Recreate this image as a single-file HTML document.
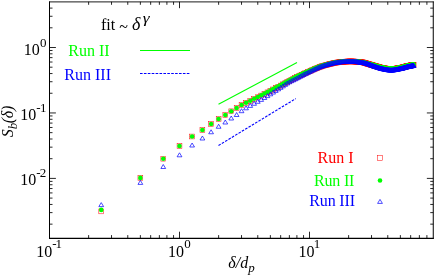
<!DOCTYPE html>
<html><head><meta charset="utf-8"><title>S_b(delta)</title>
<style>html,body{margin:0;padding:0;background:#fff}body{width:436px;height:276px;overflow:hidden}svg{display:block;will-change:transform;opacity:0.999}text{font-family:"Liberation Serif","DejaVu Serif",serif;}</style></head><body>
<svg width="436" height="276" viewBox="0 0 436 276">
<rect width="436" height="276" fill="#fff"/>
<g fill="none" stroke="#f00" stroke-width="0.5">
<rect x="98.83" y="209" width="4.8" height="4.8"/>
<rect x="137.97" y="175.4" width="4.8" height="4.8"/>
<rect x="160.86" y="156.3" width="4.8" height="4.8"/>
<rect x="177.1" y="143.6" width="4.8" height="4.8"/>
<rect x="189.7" y="134.1" width="4.8" height="4.8"/>
<rect x="199.99" y="127.6" width="4.8" height="4.8"/>
<rect x="208.69" y="121.61" width="4.8" height="4.8"/>
<rect x="216.23" y="116.61" width="4.8" height="4.8"/>
<rect x="222.88" y="112.63" width="4.8" height="4.8"/>
<rect x="228.83" y="108.89" width="4.8" height="4.8"/>
<rect x="234.21" y="105.67" width="4.8" height="4.8"/>
<rect x="239.13" y="102.7" width="4.8" height="4.8"/>
<rect x="243.64" y="100.51" width="4.8" height="4.8"/>
<rect x="247.83" y="98.48" width="4.8" height="4.8"/>
<rect x="251.72" y="96.59" width="4.8" height="4.8"/>
<rect x="255.37" y="94.81" width="4.8" height="4.8"/>
<rect x="258.79" y="93.13" width="4.8" height="4.8"/>
<rect x="262.02" y="91.52" width="4.8" height="4.8"/>
<rect x="265.07" y="89.96" width="4.8" height="4.8"/>
<rect x="267.97" y="88.47" width="4.8" height="4.8"/>
<rect x="270.72" y="87.04" width="4.8" height="4.8"/>
<rect x="273.35" y="85.67" width="4.8" height="4.8"/>
<rect x="275.86" y="84.37" width="4.8" height="4.8"/>
<rect x="278.26" y="83.12" width="4.8" height="4.8"/>
<rect x="280.56" y="81.93" width="4.8" height="4.8"/>
<rect x="282.78" y="80.79" width="4.8" height="4.8"/>
<rect x="284.91" y="79.69" width="4.8" height="4.8"/>
<rect x="286.96" y="78.61" width="4.8" height="4.8"/>
<rect x="288.94" y="77.54" width="4.8" height="4.8"/>
<rect x="290.86" y="76.48" width="4.8" height="4.8"/>
<rect x="292.71" y="75.54" width="4.8" height="4.8"/>
<rect x="294.5" y="74.66" width="4.8" height="4.8"/>
<rect x="296.24" y="73.83" width="4.8" height="4.8"/>
<rect x="297.92" y="73.04" width="4.8" height="4.8"/>
<rect x="299.56" y="72.29" width="4.8" height="4.8"/>
<rect x="301.15" y="71.57" width="4.8" height="4.8"/>
<rect x="302.7" y="70.89" width="4.8" height="4.8"/>
<rect x="304.2" y="70.23" width="4.8" height="4.8"/>
<rect x="305.67" y="69.59" width="4.8" height="4.8"/>
<rect x="307.1" y="68.95" width="4.8" height="4.8"/>
<rect x="308.49" y="68.32" width="4.8" height="4.8"/>
<rect x="309.85" y="67.72" width="4.8" height="4.8"/>
<rect x="311.18" y="67.13" width="4.8" height="4.8"/>
<rect x="312.48" y="66.56" width="4.8" height="4.8"/>
<rect x="313.75" y="66.02" width="4.8" height="4.8"/>
<rect x="314.99" y="65.51" width="4.8" height="4.8"/>
<rect x="316.2" y="65.03" width="4.8" height="4.8"/>
<rect x="317.39" y="64.58" width="4.8" height="4.8"/>
<rect x="318.56" y="64.17" width="4.8" height="4.8"/>
<rect x="319.7" y="63.79" width="4.8" height="4.8"/>
<rect x="320.82" y="63.45" width="4.8" height="4.8"/>
<rect x="321.91" y="63.13" width="4.8" height="4.8"/>
<rect x="322.99" y="62.83" width="4.8" height="4.8"/>
<rect x="324.04" y="62.54" width="4.8" height="4.8"/>
<rect x="325.08" y="62.25" width="4.8" height="4.8"/>
<rect x="326.1" y="61.98" width="4.8" height="4.8"/>
<rect x="327.1" y="61.72" width="4.8" height="4.8"/>
<rect x="328.08" y="61.48" width="4.8" height="4.8"/>
<rect x="329.04" y="61.24" width="4.8" height="4.8"/>
<rect x="329.99" y="61.02" width="4.8" height="4.8"/>
<rect x="330.93" y="60.82" width="4.8" height="4.8"/>
<rect x="331.84" y="60.62" width="4.8" height="4.8"/>
<rect x="332.75" y="60.45" width="4.8" height="4.8"/>
<rect x="333.64" y="60.29" width="4.8" height="4.8"/>
<rect x="334.51" y="60.14" width="4.8" height="4.8"/>
<rect x="335.37" y="60.01" width="4.8" height="4.8"/>
<rect x="336.22" y="59.89" width="4.8" height="4.8"/>
<rect x="337.06" y="59.79" width="4.8" height="4.8"/>
<rect x="337.88" y="59.7" width="4.8" height="4.8"/>
<rect x="338.69" y="59.62" width="4.8" height="4.8"/>
<rect x="339.5" y="59.54" width="4.8" height="4.8"/>
<rect x="340.29" y="59.47" width="4.8" height="4.8"/>
<rect x="341.06" y="59.4" width="4.8" height="4.8"/>
<rect x="341.83" y="59.33" width="4.8" height="4.8"/>
<rect x="342.59" y="59.27" width="4.8" height="4.8"/>
<rect x="343.34" y="59.21" width="4.8" height="4.8"/>
<rect x="344.08" y="59.16" width="4.8" height="4.8"/>
<rect x="344.8" y="59.12" width="4.8" height="4.8"/>
<rect x="345.52" y="59.09" width="4.8" height="4.8"/>
<rect x="346.23" y="59.06" width="4.8" height="4.8"/>
<rect x="346.94" y="59.04" width="4.8" height="4.8"/>
<rect x="347.63" y="59.03" width="4.8" height="4.8"/>
<rect x="348.31" y="59.03" width="4.8" height="4.8"/>
<rect x="348.99" y="59.04" width="4.8" height="4.8"/>
<rect x="349.66" y="59.05" width="4.8" height="4.8"/>
<rect x="350.32" y="59.07" width="4.8" height="4.8"/>
<rect x="350.97" y="59.09" width="4.8" height="4.8"/>
<rect x="351.61" y="59.12" width="4.8" height="4.8"/>
<rect x="352.25" y="59.16" width="4.8" height="4.8"/>
<rect x="352.88" y="59.2" width="4.8" height="4.8"/>
<rect x="353.51" y="59.24" width="4.8" height="4.8"/>
<rect x="354.12" y="59.29" width="4.8" height="4.8"/>
<rect x="354.73" y="59.34" width="4.8" height="4.8"/>
<rect x="355.34" y="59.39" width="4.8" height="4.8"/>
<rect x="355.94" y="59.45" width="4.8" height="4.8"/>
<rect x="356.53" y="59.51" width="4.8" height="4.8"/>
<rect x="357.11" y="59.58" width="4.8" height="4.8"/>
<rect x="357.69" y="59.64" width="4.8" height="4.8"/>
<rect x="358.26" y="59.71" width="4.8" height="4.8"/>
<rect x="358.83" y="59.79" width="4.8" height="4.8"/>
<rect x="359.39" y="59.86" width="4.8" height="4.8"/>
<rect x="359.95" y="59.94" width="4.8" height="4.8"/>
<rect x="360.5" y="60.01" width="4.8" height="4.8"/>
<rect x="361.05" y="60.11" width="4.8" height="4.8"/>
<rect x="361.59" y="60.23" width="4.8" height="4.8"/>
<rect x="362.12" y="60.38" width="4.8" height="4.8"/>
<rect x="362.65" y="60.54" width="4.8" height="4.8"/>
<rect x="363.18" y="60.71" width="4.8" height="4.8"/>
<rect x="363.7" y="60.88" width="4.8" height="4.8"/>
<rect x="364.21" y="61.04" width="4.8" height="4.8"/>
<rect x="364.72" y="61.19" width="4.8" height="4.8"/>
<rect x="365.23" y="61.34" width="4.8" height="4.8"/>
<rect x="365.73" y="61.49" width="4.8" height="4.8"/>
<rect x="366.23" y="61.64" width="4.8" height="4.8"/>
<rect x="366.72" y="61.79" width="4.8" height="4.8"/>
<rect x="367.21" y="61.93" width="4.8" height="4.8"/>
<rect x="367.7" y="62.08" width="4.8" height="4.8"/>
<rect x="368.18" y="62.22" width="4.8" height="4.8"/>
<rect x="368.65" y="62.37" width="4.8" height="4.8"/>
<rect x="369.13" y="62.51" width="4.8" height="4.8"/>
<rect x="369.59" y="62.65" width="4.8" height="4.8"/>
<rect x="370.06" y="62.79" width="4.8" height="4.8"/>
<rect x="370.52" y="62.92" width="4.8" height="4.8"/>
<rect x="370.98" y="63.05" width="4.8" height="4.8"/>
<rect x="371.43" y="63.18" width="4.8" height="4.8"/>
<rect x="371.88" y="63.31" width="4.8" height="4.8"/>
<rect x="372.33" y="63.44" width="4.8" height="4.8"/>
<rect x="372.77" y="63.56" width="4.8" height="4.8"/>
<rect x="373.21" y="63.69" width="4.8" height="4.8"/>
<rect x="373.64" y="63.81" width="4.8" height="4.8"/>
<rect x="374.08" y="63.94" width="4.8" height="4.8"/>
<rect x="374.51" y="64.07" width="4.8" height="4.8"/>
<rect x="374.93" y="64.19" width="4.8" height="4.8"/>
<rect x="375.36" y="64.32" width="4.8" height="4.8"/>
<rect x="375.78" y="64.44" width="4.8" height="4.8"/>
<rect x="376.19" y="64.56" width="4.8" height="4.8"/>
<rect x="376.61" y="64.68" width="4.8" height="4.8"/>
<rect x="377.02" y="64.8" width="4.8" height="4.8"/>
<rect x="377.42" y="64.91" width="4.8" height="4.8"/>
<rect x="377.83" y="65.02" width="4.8" height="4.8"/>
<rect x="378.23" y="65.13" width="4.8" height="4.8"/>
<rect x="378.63" y="65.23" width="4.8" height="4.8"/>
<rect x="379.03" y="65.33" width="4.8" height="4.8"/>
<rect x="379.42" y="65.42" width="4.8" height="4.8"/>
<rect x="379.81" y="65.51" width="4.8" height="4.8"/>
<rect x="380.2" y="65.59" width="4.8" height="4.8"/>
<rect x="380.58" y="65.66" width="4.8" height="4.8"/>
<rect x="380.97" y="65.73" width="4.8" height="4.8"/>
<rect x="381.35" y="65.79" width="4.8" height="4.8"/>
<rect x="381.72" y="65.85" width="4.8" height="4.8"/>
<rect x="382.1" y="65.92" width="4.8" height="4.8"/>
<rect x="382.47" y="65.98" width="4.8" height="4.8"/>
<rect x="382.84" y="66.04" width="4.8" height="4.8"/>
<rect x="383.21" y="66.1" width="4.8" height="4.8"/>
<rect x="383.58" y="66.16" width="4.8" height="4.8"/>
<rect x="383.94" y="66.22" width="4.8" height="4.8"/>
<rect x="384.3" y="66.27" width="4.8" height="4.8"/>
<rect x="384.66" y="66.33" width="4.8" height="4.8"/>
<rect x="385.01" y="66.38" width="4.8" height="4.8"/>
<rect x="385.37" y="66.42" width="4.8" height="4.8"/>
<rect x="385.72" y="66.47" width="4.8" height="4.8"/>
<rect x="386.07" y="66.51" width="4.8" height="4.8"/>
<rect x="386.42" y="66.54" width="4.8" height="4.8"/>
<rect x="386.76" y="66.57" width="4.8" height="4.8"/>
<rect x="387.11" y="66.6" width="4.8" height="4.8"/>
<rect x="387.45" y="66.62" width="4.8" height="4.8"/>
<rect x="387.79" y="66.64" width="4.8" height="4.8"/>
<rect x="388.12" y="66.65" width="4.8" height="4.8"/>
<rect x="388.46" y="66.65" width="4.8" height="4.8"/>
<rect x="388.79" y="66.65" width="4.8" height="4.8"/>
<rect x="389.12" y="66.65" width="4.8" height="4.8"/>
<rect x="389.45" y="66.64" width="4.8" height="4.8"/>
<rect x="389.78" y="66.62" width="4.8" height="4.8"/>
<rect x="390.1" y="66.6" width="4.8" height="4.8"/>
<rect x="390.43" y="66.58" width="4.8" height="4.8"/>
<rect x="390.75" y="66.56" width="4.8" height="4.8"/>
<rect x="391.07" y="66.53" width="4.8" height="4.8"/>
<rect x="391.39" y="66.5" width="4.8" height="4.8"/>
<rect x="391.7" y="66.46" width="4.8" height="4.8"/>
<rect x="392.02" y="66.43" width="4.8" height="4.8"/>
<rect x="392.33" y="66.39" width="4.8" height="4.8"/>
<rect x="392.64" y="66.35" width="4.8" height="4.8"/>
<rect x="392.95" y="66.31" width="4.8" height="4.8"/>
<rect x="393.26" y="66.26" width="4.8" height="4.8"/>
<rect x="393.56" y="66.22" width="4.8" height="4.8"/>
<rect x="393.87" y="66.17" width="4.8" height="4.8"/>
<rect x="394.17" y="66.12" width="4.8" height="4.8"/>
<rect x="394.47" y="66.07" width="4.8" height="4.8"/>
<rect x="394.77" y="66.03" width="4.8" height="4.8"/>
<rect x="395.07" y="65.98" width="4.8" height="4.8"/>
<rect x="395.37" y="65.93" width="4.8" height="4.8"/>
<rect x="395.66" y="65.88" width="4.8" height="4.8"/>
<rect x="395.95" y="65.83" width="4.8" height="4.8"/>
<rect x="396.25" y="65.78" width="4.8" height="4.8"/>
<rect x="396.54" y="65.73" width="4.8" height="4.8"/>
<rect x="396.83" y="65.68" width="4.8" height="4.8"/>
<rect x="397.11" y="65.63" width="4.8" height="4.8"/>
<rect x="397.4" y="65.58" width="4.8" height="4.8"/>
<rect x="397.68" y="65.54" width="4.8" height="4.8"/>
<rect x="397.97" y="65.49" width="4.8" height="4.8"/>
<rect x="398.25" y="65.44" width="4.8" height="4.8"/>
<rect x="398.53" y="65.38" width="4.8" height="4.8"/>
<rect x="398.81" y="65.32" width="4.8" height="4.8"/>
<rect x="399.08" y="65.26" width="4.8" height="4.8"/>
<rect x="399.36" y="65.2" width="4.8" height="4.8"/>
<rect x="399.63" y="65.13" width="4.8" height="4.8"/>
<rect x="399.91" y="65.07" width="4.8" height="4.8"/>
<rect x="400.18" y="65" width="4.8" height="4.8"/>
<rect x="400.45" y="64.93" width="4.8" height="4.8"/>
<rect x="400.72" y="64.86" width="4.8" height="4.8"/>
<rect x="400.99" y="64.78" width="4.8" height="4.8"/>
<rect x="401.26" y="64.71" width="4.8" height="4.8"/>
<rect x="401.52" y="64.64" width="4.8" height="4.8"/>
<rect x="401.79" y="64.57" width="4.8" height="4.8"/>
<rect x="402.05" y="64.49" width="4.8" height="4.8"/>
<rect x="402.31" y="64.42" width="4.8" height="4.8"/>
<rect x="402.57" y="64.35" width="4.8" height="4.8"/>
<rect x="402.83" y="64.28" width="4.8" height="4.8"/>
<rect x="403.09" y="64.21" width="4.8" height="4.8"/>
<rect x="403.35" y="64.14" width="4.8" height="4.8"/>
<rect x="403.6" y="64.07" width="4.8" height="4.8"/>
<rect x="403.86" y="64" width="4.8" height="4.8"/>
<rect x="404.11" y="63.93" width="4.8" height="4.8"/>
<rect x="404.36" y="63.87" width="4.8" height="4.8"/>
<rect x="404.62" y="63.81" width="4.8" height="4.8"/>
<rect x="404.87" y="63.74" width="4.8" height="4.8"/>
<rect x="405.12" y="63.68" width="4.8" height="4.8"/>
<rect x="405.36" y="63.63" width="4.8" height="4.8"/>
<rect x="405.61" y="63.57" width="4.8" height="4.8"/>
<rect x="405.86" y="63.52" width="4.8" height="4.8"/>
<rect x="406.1" y="63.47" width="4.8" height="4.8"/>
<rect x="406.35" y="63.42" width="4.8" height="4.8"/>
<rect x="406.59" y="63.37" width="4.8" height="4.8"/>
<rect x="406.83" y="63.33" width="4.8" height="4.8"/>
<rect x="407.07" y="63.28" width="4.8" height="4.8"/>
<rect x="407.31" y="63.24" width="4.8" height="4.8"/>
<rect x="407.55" y="63.19" width="4.8" height="4.8"/>
<rect x="407.79" y="63.15" width="4.8" height="4.8"/>
<rect x="408.02" y="63.1" width="4.8" height="4.8"/>
<rect x="408.26" y="63.06" width="4.8" height="4.8"/>
<rect x="408.49" y="63.02" width="4.8" height="4.8"/>
<rect x="408.73" y="62.98" width="4.8" height="4.8"/>
<rect x="408.96" y="62.94" width="4.8" height="4.8"/>
<rect x="409.19" y="62.89" width="4.8" height="4.8"/>
<rect x="409.42" y="62.85" width="4.8" height="4.8"/>
<rect x="409.65" y="62.81" width="4.8" height="4.8"/>
<rect x="409.88" y="62.78" width="4.8" height="4.8"/>
<rect x="410.11" y="62.74" width="4.8" height="4.8"/>
<rect x="410.34" y="62.7" width="4.8" height="4.8"/>
<rect x="410.56" y="62.66" width="4.8" height="4.8"/>
<rect x="410.79" y="62.63" width="4.8" height="4.8"/>
<rect x="411.01" y="62.59" width="4.8" height="4.8"/>
<rect x="411.24" y="62.56" width="4.8" height="4.8"/>
</g>
<g fill="#0f0">
<circle cx="101.23" cy="209.9" r="2.3"/>
<circle cx="140.37" cy="177.9" r="2.3"/>
<circle cx="163.26" cy="158.7" r="2.3"/>
<circle cx="179.5" cy="146" r="2.3"/>
<circle cx="192.1" cy="136.5" r="2.3"/>
<circle cx="202.39" cy="130" r="2.3"/>
<circle cx="211.09" cy="124" r="2.3"/>
<circle cx="218.63" cy="119" r="2.3"/>
<circle cx="225.28" cy="115" r="2.3"/>
<circle cx="231.23" cy="111.25" r="2.3"/>
<circle cx="236.61" cy="108" r="2.3"/>
<circle cx="241.53" cy="105" r="2.3"/>
<circle cx="246.04" cy="102.78" r="2.3"/>
<circle cx="250.23" cy="100.71" r="2.3"/>
<circle cx="254.12" cy="98.78" r="2.3"/>
<circle cx="257.77" cy="96.96" r="2.3"/>
<circle cx="261.19" cy="95.23" r="2.3"/>
<circle cx="264.42" cy="93.57" r="2.3"/>
<circle cx="267.47" cy="91.97" r="2.3"/>
<circle cx="270.37" cy="90.44" r="2.3"/>
<circle cx="273.12" cy="88.97" r="2.3"/>
<circle cx="275.75" cy="87.56" r="2.3"/>
<circle cx="278.26" cy="86.22" r="2.3"/>
<circle cx="280.66" cy="84.94" r="2.3"/>
<circle cx="282.96" cy="83.72" r="2.3"/>
<circle cx="285.18" cy="82.56" r="2.3"/>
<circle cx="287.31" cy="81.44" r="2.3"/>
<circle cx="289.36" cy="80.34" r="2.3"/>
<circle cx="291.34" cy="79.25" r="2.3"/>
<circle cx="293.26" cy="78.19" r="2.3"/>
<circle cx="295.11" cy="77.24" r="2.3"/>
<circle cx="296.9" cy="76.36" r="2.3"/>
<circle cx="298.64" cy="75.53" r="2.3"/>
<circle cx="300.32" cy="74.74" r="2.3"/>
<circle cx="301.96" cy="74" r="2.3"/>
<circle cx="303.55" cy="73.29" r="2.3"/>
<circle cx="305.1" cy="72.61" r="2.3"/>
<circle cx="306.6" cy="71.96" r="2.3"/>
<circle cx="308.07" cy="71.33" r="2.3"/>
<circle cx="309.5" cy="70.71" r="2.3"/>
<circle cx="310.89" cy="70.09" r="2.3"/>
<circle cx="312.25" cy="69.5" r="2.3"/>
<circle cx="313.58" cy="68.92" r="2.3"/>
<circle cx="314.88" cy="68.37" r="2.3"/>
<circle cx="316.15" cy="67.85" r="2.3"/>
<circle cx="317.39" cy="67.36" r="2.3"/>
<circle cx="318.6" cy="66.89" r="2.3"/>
<circle cx="319.79" cy="66.46" r="2.3"/>
<circle cx="320.96" cy="66.06" r="2.3"/>
<circle cx="322.1" cy="65.7" r="2.3"/>
<circle cx="323.22" cy="65.38" r="2.3"/>
<circle cx="324.31" cy="65.08" r="2.3"/>
<circle cx="325.39" cy="64.79" r="2.3"/>
<circle cx="326.44" cy="64.52" r="2.3"/>
<circle cx="327.48" cy="64.25" r="2.3"/>
<circle cx="328.5" cy="63.99" r="2.3"/>
<circle cx="329.5" cy="63.75" r="2.3"/>
<circle cx="330.48" cy="63.51" r="2.3"/>
<circle cx="331.44" cy="63.29" r="2.3"/>
<circle cx="332.39" cy="63.09" r="2.3"/>
<circle cx="333.33" cy="62.89" r="2.3"/>
<circle cx="334.24" cy="62.72" r="2.3"/>
<circle cx="335.15" cy="62.55" r="2.3"/>
<circle cx="336.04" cy="62.4" r="2.3"/>
<circle cx="336.91" cy="62.27" r="2.3"/>
<circle cx="337.77" cy="62.15" r="2.3"/>
<circle cx="338.62" cy="62.04" r="2.3"/>
<circle cx="339.46" cy="61.95" r="2.3"/>
<circle cx="340.28" cy="61.87" r="2.3"/>
<circle cx="341.09" cy="61.8" r="2.3"/>
<circle cx="341.9" cy="61.73" r="2.3"/>
<circle cx="342.69" cy="61.67" r="2.3"/>
<circle cx="343.46" cy="61.6" r="2.3"/>
<circle cx="344.23" cy="61.54" r="2.3"/>
<circle cx="344.99" cy="61.49" r="2.3"/>
<circle cx="345.74" cy="61.44" r="2.3"/>
<circle cx="346.48" cy="61.4" r="2.3"/>
<circle cx="347.2" cy="61.36" r="2.3"/>
<circle cx="347.92" cy="61.34" r="2.3"/>
<circle cx="348.63" cy="61.32" r="2.3"/>
<circle cx="349.34" cy="61.3" r="2.3"/>
<circle cx="350.03" cy="61.3" r="2.3"/>
<circle cx="350.71" cy="61.3" r="2.3"/>
<circle cx="351.39" cy="61.31" r="2.3"/>
<circle cx="352.06" cy="61.33" r="2.3"/>
<circle cx="352.72" cy="61.35" r="2.3"/>
<circle cx="353.37" cy="61.38" r="2.3"/>
<circle cx="354.01" cy="61.41" r="2.3"/>
<circle cx="354.65" cy="61.45" r="2.3"/>
<circle cx="355.28" cy="61.49" r="2.3"/>
<circle cx="355.91" cy="61.54" r="2.3"/>
<circle cx="356.52" cy="61.59" r="2.3"/>
<circle cx="357.13" cy="61.64" r="2.3"/>
<circle cx="357.74" cy="61.69" r="2.3"/>
<circle cx="358.34" cy="61.75" r="2.3"/>
<circle cx="358.93" cy="61.81" r="2.3"/>
<circle cx="359.51" cy="61.87" r="2.3"/>
<circle cx="360.09" cy="61.94" r="2.3"/>
<circle cx="360.66" cy="62.01" r="2.3"/>
<circle cx="361.23" cy="62.07" r="2.3"/>
<circle cx="361.79" cy="62.14" r="2.3"/>
<circle cx="362.35" cy="62.21" r="2.3"/>
<circle cx="362.9" cy="62.29" r="2.3"/>
<circle cx="363.45" cy="62.37" r="2.3"/>
<circle cx="363.99" cy="62.49" r="2.3"/>
<circle cx="364.52" cy="62.63" r="2.3"/>
<circle cx="365.05" cy="62.79" r="2.3"/>
<circle cx="365.58" cy="62.95" r="2.3"/>
<circle cx="366.1" cy="63.11" r="2.3"/>
<circle cx="366.61" cy="63.26" r="2.3"/>
<circle cx="367.12" cy="63.4" r="2.3"/>
<circle cx="367.63" cy="63.54" r="2.3"/>
<circle cx="368.13" cy="63.68" r="2.3"/>
<circle cx="368.63" cy="63.82" r="2.3"/>
<circle cx="369.12" cy="63.96" r="2.3"/>
<circle cx="369.61" cy="64.1" r="2.3"/>
<circle cx="370.1" cy="64.23" r="2.3"/>
<circle cx="370.58" cy="64.37" r="2.3"/>
<circle cx="371.05" cy="64.5" r="2.3"/>
<circle cx="371.53" cy="64.64" r="2.3"/>
<circle cx="371.99" cy="64.77" r="2.3"/>
<circle cx="372.46" cy="64.9" r="2.3"/>
<circle cx="372.92" cy="65.03" r="2.3"/>
<circle cx="373.38" cy="65.16" r="2.3"/>
<circle cx="373.83" cy="65.28" r="2.3"/>
<circle cx="374.28" cy="65.41" r="2.3"/>
<circle cx="374.73" cy="65.53" r="2.3"/>
<circle cx="375.17" cy="65.65" r="2.3"/>
<circle cx="375.61" cy="65.77" r="2.3"/>
<circle cx="376.04" cy="65.89" r="2.3"/>
<circle cx="376.48" cy="66.01" r="2.3"/>
<circle cx="376.91" cy="66.14" r="2.3"/>
<circle cx="377.33" cy="66.26" r="2.3"/>
<circle cx="377.76" cy="66.38" r="2.3"/>
<circle cx="378.18" cy="66.51" r="2.3"/>
<circle cx="378.59" cy="66.63" r="2.3"/>
<circle cx="379.01" cy="66.74" r="2.3"/>
<circle cx="379.42" cy="66.86" r="2.3"/>
<circle cx="379.82" cy="66.97" r="2.3"/>
<circle cx="380.23" cy="67.08" r="2.3"/>
<circle cx="380.63" cy="67.18" r="2.3"/>
<circle cx="381.03" cy="67.28" r="2.3"/>
<circle cx="381.43" cy="67.38" r="2.3"/>
<circle cx="381.82" cy="67.47" r="2.3"/>
<circle cx="382.21" cy="67.56" r="2.3"/>
<circle cx="382.6" cy="67.64" r="2.3"/>
<circle cx="382.98" cy="67.71" r="2.3"/>
<circle cx="383.37" cy="67.78" r="2.3"/>
<circle cx="383.75" cy="67.84" r="2.3"/>
<circle cx="384.12" cy="67.9" r="2.3"/>
<circle cx="384.5" cy="67.97" r="2.3"/>
<circle cx="384.87" cy="68.03" r="2.3"/>
<circle cx="385.24" cy="68.09" r="2.3"/>
<circle cx="385.61" cy="68.15" r="2.3"/>
<circle cx="385.98" cy="68.21" r="2.3"/>
<circle cx="386.34" cy="68.27" r="2.3"/>
<circle cx="386.7" cy="68.32" r="2.3"/>
<circle cx="387.06" cy="68.38" r="2.3"/>
<circle cx="387.41" cy="68.43" r="2.3"/>
<circle cx="387.77" cy="68.47" r="2.3"/>
<circle cx="388.12" cy="68.51" r="2.3"/>
<circle cx="388.47" cy="68.55" r="2.3"/>
<circle cx="388.82" cy="68.59" r="2.3"/>
<circle cx="389.16" cy="68.62" r="2.3"/>
<circle cx="389.51" cy="68.65" r="2.3"/>
<circle cx="389.85" cy="68.67" r="2.3"/>
<circle cx="390.19" cy="68.68" r="2.3"/>
<circle cx="390.52" cy="68.69" r="2.3"/>
<circle cx="390.86" cy="68.7" r="2.3"/>
<circle cx="391.19" cy="68.7" r="2.3"/>
<circle cx="391.52" cy="68.69" r="2.3"/>
<circle cx="391.85" cy="68.68" r="2.3"/>
<circle cx="392.18" cy="68.67" r="2.3"/>
<circle cx="392.5" cy="68.65" r="2.3"/>
<circle cx="392.83" cy="68.63" r="2.3"/>
<circle cx="393.15" cy="68.61" r="2.3"/>
<circle cx="393.47" cy="68.58" r="2.3"/>
<circle cx="393.79" cy="68.55" r="2.3"/>
<circle cx="394.1" cy="68.51" r="2.3"/>
<circle cx="394.42" cy="68.48" r="2.3"/>
<circle cx="394.73" cy="68.44" r="2.3"/>
<circle cx="395.04" cy="68.4" r="2.3"/>
<circle cx="395.35" cy="68.35" r="2.3"/>
<circle cx="395.66" cy="68.31" r="2.3"/>
<circle cx="395.96" cy="68.27" r="2.3"/>
<circle cx="396.27" cy="68.22" r="2.3"/>
<circle cx="396.57" cy="68.17" r="2.3"/>
<circle cx="396.87" cy="68.12" r="2.3"/>
<circle cx="397.17" cy="68.07" r="2.3"/>
<circle cx="397.47" cy="68.03" r="2.3"/>
<circle cx="397.77" cy="67.98" r="2.3"/>
<circle cx="398.06" cy="67.93" r="2.3"/>
<circle cx="398.35" cy="67.88" r="2.3"/>
<circle cx="398.65" cy="67.83" r="2.3"/>
<circle cx="398.94" cy="67.78" r="2.3"/>
<circle cx="399.23" cy="67.73" r="2.3"/>
<circle cx="399.51" cy="67.68" r="2.3"/>
<circle cx="399.8" cy="67.63" r="2.3"/>
<circle cx="400.08" cy="67.59" r="2.3"/>
<circle cx="400.37" cy="67.54" r="2.3"/>
<circle cx="400.65" cy="67.48" r="2.3"/>
<circle cx="400.93" cy="67.43" r="2.3"/>
<circle cx="401.21" cy="67.37" r="2.3"/>
<circle cx="401.48" cy="67.31" r="2.3"/>
<circle cx="401.76" cy="67.25" r="2.3"/>
<circle cx="402.03" cy="67.18" r="2.3"/>
<circle cx="402.31" cy="67.11" r="2.3"/>
<circle cx="402.58" cy="67.05" r="2.3"/>
<circle cx="402.85" cy="66.98" r="2.3"/>
<circle cx="403.12" cy="66.91" r="2.3"/>
<circle cx="403.39" cy="66.83" r="2.3"/>
<circle cx="403.66" cy="66.76" r="2.3"/>
<circle cx="403.92" cy="66.69" r="2.3"/>
<circle cx="404.19" cy="66.62" r="2.3"/>
<circle cx="404.45" cy="66.54" r="2.3"/>
<circle cx="404.71" cy="66.47" r="2.3"/>
<circle cx="404.97" cy="66.4" r="2.3"/>
<circle cx="405.23" cy="66.33" r="2.3"/>
<circle cx="405.49" cy="66.26" r="2.3"/>
<circle cx="405.75" cy="66.19" r="2.3"/>
<circle cx="406" cy="66.12" r="2.3"/>
<circle cx="406.26" cy="66.05" r="2.3"/>
<circle cx="406.51" cy="65.98" r="2.3"/>
<circle cx="406.76" cy="65.92" r="2.3"/>
<circle cx="407.02" cy="65.86" r="2.3"/>
<circle cx="407.27" cy="65.79" r="2.3"/>
<circle cx="407.52" cy="65.73" r="2.3"/>
<circle cx="407.76" cy="65.68" r="2.3"/>
<circle cx="408.01" cy="65.62" r="2.3"/>
<circle cx="408.26" cy="65.57" r="2.3"/>
<circle cx="408.5" cy="65.52" r="2.3"/>
<circle cx="408.75" cy="65.47" r="2.3"/>
<circle cx="408.99" cy="65.42" r="2.3"/>
<circle cx="409.23" cy="65.38" r="2.3"/>
<circle cx="409.47" cy="65.33" r="2.3"/>
<circle cx="409.71" cy="65.29" r="2.3"/>
<circle cx="409.95" cy="65.24" r="2.3"/>
<circle cx="410.19" cy="65.2" r="2.3"/>
<circle cx="410.42" cy="65.15" r="2.3"/>
<circle cx="410.66" cy="65.11" r="2.3"/>
<circle cx="410.89" cy="65.07" r="2.3"/>
<circle cx="411.13" cy="65.03" r="2.3"/>
<circle cx="411.36" cy="64.98" r="2.3"/>
<circle cx="411.59" cy="64.94" r="2.3"/>
<circle cx="411.82" cy="64.9" r="2.3"/>
<circle cx="412.05" cy="64.86" r="2.3"/>
<circle cx="412.28" cy="64.83" r="2.3"/>
<circle cx="412.51" cy="64.79" r="2.3"/>
<circle cx="412.74" cy="64.75" r="2.3"/>
<circle cx="412.96" cy="64.71" r="2.3"/>
<circle cx="413.19" cy="64.68" r="2.3"/>
<circle cx="413.41" cy="64.64" r="2.3"/>
<circle cx="413.64" cy="64.61" r="2.3"/>
</g>
<path fill="none" stroke="#00f" stroke-width="0.7" d="M101.23 202.6L103.63 206.6L98.83 206.6ZM140.37 180.4L142.77 184.4L137.97 184.4ZM163.26 164.5L165.66 168.5L160.86 168.5ZM179.5 152.8L181.9 156.8L177.1 156.8ZM192.1 143L194.5 147L189.7 147ZM202.39 136L204.79 140L199.99 140ZM211.09 129.75L213.49 133.75L208.69 133.75ZM218.63 124.25L221.03 128.25L216.23 128.25ZM225.28 120L227.68 124L222.88 124ZM231.23 116L233.63 120L228.83 120ZM236.61 112.5L239.01 116.5L234.21 116.5ZM241.53 108.7L243.93 112.7L239.13 112.7ZM246.04 105.81L248.44 109.81L243.64 109.81ZM250.23 103.4L252.63 107.4L247.83 107.4ZM254.12 101.27L256.52 105.27L251.72 105.27ZM257.77 99.3L260.17 103.3L255.37 103.3ZM261.19 97.38L263.59 101.38L258.79 101.38ZM264.42 95.47L266.82 99.47L262.02 99.47ZM267.47 93.6L269.87 97.6L265.07 97.6ZM270.37 91.8L272.77 95.8L267.97 95.8ZM273.12 90.07L275.52 94.07L270.72 94.07ZM275.75 88.41L278.15 92.41L273.35 92.41ZM278.26 86.82L280.66 90.82L275.86 90.82ZM280.66 85.3L283.06 89.3L278.26 89.3ZM282.96 83.83L285.36 87.83L280.56 87.83ZM285.18 82.36L287.58 86.36L282.78 86.36ZM287.31 80.98L289.71 84.98L284.91 84.98ZM289.36 79.75L291.76 83.75L286.96 83.75ZM291.34 78.73L293.74 82.73L288.94 82.73ZM293.26 77.85L295.66 81.85L290.86 81.85ZM295.11 76.95L297.51 80.95L292.71 80.95ZM296.9 76.02L299.3 80.02L294.5 80.02ZM298.64 75.11L301.04 79.11L296.24 79.11ZM300.32 74.21L302.72 78.21L297.92 78.21ZM301.96 73.33L304.36 77.33L299.56 77.33ZM303.55 72.5L305.95 76.5L301.15 76.5ZM305.1 71.71L307.5 75.71L302.7 75.71ZM306.6 70.97L309 74.97L304.2 74.97ZM308.07 70.26L310.47 74.26L305.67 74.26ZM309.5 69.56L311.9 73.56L307.1 73.56ZM310.89 68.87L313.29 72.87L308.49 72.87ZM312.25 68.2L314.65 72.2L309.85 72.2ZM313.58 67.55L315.98 71.55L311.18 71.55ZM314.88 66.94L317.28 70.94L312.48 70.94ZM316.15 66.35L318.55 70.35L313.75 70.35ZM317.39 65.79L319.79 69.79L314.99 69.79ZM318.6 65.27L321 69.27L316.2 69.27ZM319.79 64.79L322.19 68.79L317.39 68.79ZM320.96 64.35L323.36 68.35L318.56 68.35ZM322.1 63.95L324.5 67.95L319.7 67.95ZM323.22 63.59L325.62 67.59L320.82 67.59ZM324.31 63.26L326.71 67.26L321.91 67.26ZM325.39 62.94L327.79 66.94L322.99 66.94ZM326.44 62.64L328.84 66.64L324.04 66.64ZM327.48 62.35L329.88 66.35L325.08 66.35ZM328.5 62.07L330.9 66.07L326.1 66.07ZM329.5 61.8L331.9 65.8L327.1 65.8ZM330.48 61.55L332.88 65.55L328.08 65.55ZM331.44 61.31L333.84 65.31L329.04 65.31ZM332.39 61.09L334.79 65.09L329.99 65.09ZM333.33 60.88L335.73 64.88L330.93 64.88ZM334.24 60.68L336.64 64.68L331.84 64.68ZM335.15 60.51L337.55 64.51L332.75 64.51ZM336.04 60.34L338.44 64.34L333.64 64.34ZM336.91 60.2L339.31 64.2L334.51 64.2ZM337.77 60.07L340.17 64.07L335.37 64.07ZM338.62 59.95L341.02 63.95L336.22 63.95ZM339.46 59.86L341.86 63.86L337.06 63.86ZM340.28 59.77L342.68 63.77L337.88 63.77ZM341.09 59.69L343.49 63.69L338.69 63.69ZM341.9 59.62L344.3 63.62L339.5 63.62ZM342.69 59.55L345.09 63.55L340.29 63.55ZM343.46 59.48L345.86 63.48L341.06 63.48ZM344.23 59.41L346.63 63.41L341.83 63.41ZM344.99 59.36L347.39 63.36L342.59 63.36ZM345.74 59.3L348.14 63.3L343.34 63.3ZM346.48 59.26L348.88 63.26L344.08 63.26ZM347.2 59.22L349.6 63.22L344.8 63.22ZM347.92 59.19L350.32 63.19L345.52 63.19ZM348.63 59.17L351.03 63.17L346.23 63.17ZM349.34 59.15L351.74 63.15L346.94 63.15ZM350.03 59.15L352.43 63.15L347.63 63.15ZM350.71 59.16L353.11 63.16L348.31 63.16ZM351.39 59.17L353.79 63.17L348.99 63.17ZM352.06 59.19L354.46 63.19L349.66 63.19ZM352.72 59.22L355.12 63.22L350.32 63.22ZM353.37 59.26L355.77 63.26L350.97 63.26ZM354.01 59.31L356.41 63.31L351.61 63.31ZM354.65 59.36L357.05 63.36L352.25 63.36ZM355.28 59.41L357.68 63.41L352.88 63.41ZM355.91 59.47L358.31 63.47L353.51 63.47ZM356.52 59.54L358.92 63.54L354.12 63.54ZM357.13 59.6L359.53 63.6L354.73 63.6ZM357.74 59.67L360.14 63.67L355.34 63.67ZM358.34 59.75L360.74 63.75L355.94 63.75ZM358.93 59.82L361.33 63.82L356.53 63.82ZM359.51 59.9L361.91 63.9L357.11 63.9ZM360.09 59.98L362.49 63.98L357.69 63.98ZM360.66 60.06L363.06 64.06L358.26 64.06ZM361.23 60.14L363.63 64.14L358.83 64.14ZM361.79 60.22L364.19 64.22L359.39 64.22ZM362.35 60.3L364.75 64.3L359.95 64.3ZM362.9 60.39L365.3 64.39L360.5 64.39ZM363.45 60.47L365.85 64.47L361.05 64.47ZM363.99 60.58L366.39 64.58L361.59 64.58ZM364.52 60.7L366.92 64.7L362.12 64.7ZM365.05 60.83L367.45 64.83L362.65 64.83ZM365.58 60.97L367.98 64.97L363.18 64.97ZM366.1 61.12L368.5 65.12L363.7 65.12ZM366.61 61.26L369.01 65.26L364.21 65.26ZM367.12 61.41L369.52 65.41L364.72 65.41ZM367.63 61.57L370.03 65.57L365.23 65.57ZM368.13 61.73L370.53 65.73L365.73 65.73ZM368.63 61.9L371.03 65.9L366.23 65.9ZM369.12 62.08L371.52 66.08L366.72 66.08ZM369.61 62.27L372.01 66.27L367.21 66.27ZM370.1 62.45L372.5 66.45L367.7 66.45ZM370.58 62.64L372.98 66.64L368.18 66.64ZM371.05 62.83L373.45 66.83L368.65 66.83ZM371.53 63.01L373.93 67.01L369.13 67.01ZM371.99 63.2L374.39 67.2L369.59 67.2ZM372.46 63.38L374.86 67.38L370.06 67.38ZM372.92 63.56L375.32 67.56L370.52 67.56ZM373.38 63.73L375.78 67.73L370.98 67.73ZM373.83 63.9L376.23 67.9L371.43 67.9ZM374.28 64.06L376.68 68.06L371.88 68.06ZM374.73 64.21L377.13 68.21L372.33 68.21ZM375.17 64.36L377.57 68.36L372.77 68.36ZM375.61 64.5L378.01 68.5L373.21 68.5ZM376.04 64.64L378.44 68.64L373.64 68.64ZM376.48 64.79L378.88 68.79L374.08 68.79ZM376.91 64.93L379.31 68.93L374.51 68.93ZM377.33 65.07L379.73 69.07L374.93 69.07ZM377.76 65.21L380.16 69.21L375.36 69.21ZM378.18 65.35L380.58 69.35L375.78 69.35ZM378.59 65.48L380.99 69.48L376.19 69.48ZM379.01 65.61L381.41 69.61L376.61 69.61ZM379.42 65.74L381.82 69.74L377.02 69.74ZM379.82 65.87L382.22 69.87L377.42 69.87ZM380.23 65.99L382.63 69.99L377.83 69.99ZM380.63 66.1L383.03 70.1L378.23 70.1ZM381.03 66.21L383.43 70.21L378.63 70.21ZM381.43 66.32L383.83 70.32L379.03 70.32ZM381.82 66.42L384.22 70.42L379.42 70.42ZM382.21 66.52L384.61 70.52L379.81 70.52ZM382.6 66.61L385 70.61L380.2 70.61ZM382.98 66.69L385.38 70.69L380.58 70.69ZM383.37 66.77L385.77 70.77L380.97 70.77ZM383.75 66.85L386.15 70.85L381.35 70.85ZM384.12 66.92L386.52 70.92L381.72 70.92ZM384.5 67L386.9 71L382.1 71ZM384.87 67.07L387.27 71.07L382.47 71.07ZM385.24 67.15L387.64 71.15L382.84 71.15ZM385.61 67.22L388.01 71.22L383.21 71.22ZM385.98 67.3L388.38 71.3L383.58 71.3ZM386.34 67.37L388.74 71.37L383.94 71.37ZM386.7 67.43L389.1 71.43L384.3 71.43ZM387.06 67.5L389.46 71.5L384.66 71.5ZM387.41 67.56L389.81 71.56L385.01 71.56ZM387.77 67.62L390.17 71.62L385.37 71.62ZM388.12 67.67L390.52 71.67L385.72 71.67ZM388.47 67.72L390.87 71.72L386.07 71.72ZM388.82 67.76L391.22 71.76L386.42 71.76ZM389.16 67.8L391.56 71.8L386.76 71.8ZM389.51 67.83L391.91 71.83L387.11 71.83ZM389.85 67.86L392.25 71.86L387.45 71.86ZM390.19 67.88L392.59 71.88L387.79 71.88ZM390.52 67.89L392.92 71.89L388.12 71.89ZM390.86 67.9L393.26 71.9L388.46 71.9ZM391.19 67.9L393.59 71.9L388.79 71.9ZM391.52 67.89L393.92 71.89L389.12 71.89ZM391.85 67.88L394.25 71.88L389.45 71.88ZM392.18 67.86L394.58 71.86L389.78 71.86ZM392.5 67.84L394.9 71.84L390.1 71.84ZM392.83 67.81L395.23 71.81L390.43 71.81ZM393.15 67.77L395.55 71.77L390.75 71.77ZM393.47 67.74L395.87 71.74L391.07 71.74ZM393.79 67.7L396.19 71.7L391.39 71.7ZM394.1 67.65L396.5 71.65L391.7 71.65ZM394.42 67.6L396.82 71.6L392.02 71.6ZM394.73 67.55L397.13 71.55L392.33 71.55ZM395.04 67.5L397.44 71.5L392.64 71.5ZM395.35 67.45L397.75 71.45L392.95 71.45ZM395.66 67.39L398.06 71.39L393.26 71.39ZM395.96 67.33L398.36 71.33L393.56 71.33ZM396.27 67.27L398.67 71.27L393.87 71.27ZM396.57 67.21L398.97 71.21L394.17 71.21ZM396.87 67.15L399.27 71.15L394.47 71.15ZM397.17 67.09L399.57 71.09L394.77 71.09ZM397.47 67.02L399.87 71.02L395.07 71.02ZM397.77 66.96L400.17 70.96L395.37 70.96ZM398.06 66.9L400.46 70.9L395.66 70.9ZM398.35 66.84L400.75 70.84L395.95 70.84ZM398.65 66.77L401.05 70.77L396.25 70.77ZM398.94 66.71L401.34 70.71L396.54 70.71ZM399.23 66.65L401.63 70.65L396.83 70.65ZM399.51 66.6L401.91 70.6L397.11 70.6ZM399.8 66.54L402.2 70.54L397.4 70.54ZM400.08 66.48L402.48 70.48L397.68 70.48ZM400.37 66.43L402.77 70.43L397.97 70.43ZM400.65 66.37L403.05 70.37L398.25 70.37ZM400.93 66.3L403.33 70.3L398.53 70.3ZM401.21 66.24L403.61 70.24L398.81 70.24ZM401.48 66.17L403.88 70.17L399.08 70.17ZM401.76 66.11L404.16 70.11L399.36 70.11ZM402.03 66.04L404.43 70.04L399.63 70.04ZM402.31 65.96L404.71 69.96L399.91 69.96ZM402.58 65.89L404.98 69.89L400.18 69.89ZM402.85 65.82L405.25 69.82L400.45 69.82ZM403.12 65.75L405.52 69.75L400.72 69.75ZM403.39 65.67L405.79 69.67L400.99 69.67ZM403.66 65.6L406.06 69.6L401.26 69.6ZM403.92 65.52L406.32 69.52L401.52 69.52ZM404.19 65.45L406.59 69.45L401.79 69.45ZM404.45 65.37L406.85 69.37L402.05 69.37ZM404.71 65.3L407.11 69.3L402.31 69.3ZM404.97 65.23L407.37 69.23L402.57 69.23ZM405.23 65.15L407.63 69.15L402.83 69.15ZM405.49 65.08L407.89 69.08L403.09 69.08ZM405.75 65.01L408.15 69.01L403.35 69.01ZM406 64.94L408.4 68.94L403.6 68.94ZM406.26 64.87L408.66 68.87L403.86 68.87ZM406.51 64.8L408.91 68.8L404.11 68.8ZM406.76 64.74L409.16 68.74L404.36 68.74ZM407.02 64.67L409.42 68.67L404.62 68.67ZM407.27 64.61L409.67 68.61L404.87 68.61ZM407.52 64.55L409.92 68.55L405.12 68.55ZM407.76 64.49L410.16 68.49L405.36 68.49ZM408.01 64.43L410.41 68.43L405.61 68.43ZM408.26 64.37L410.66 68.37L405.86 68.37ZM408.5 64.32L410.9 68.32L406.1 68.32ZM408.75 64.27L411.15 68.27L406.35 68.27ZM408.99 64.22L411.39 68.22L406.59 68.22ZM409.23 64.17L411.63 68.17L406.83 68.17ZM409.47 64.12L411.87 68.12L407.07 68.12ZM409.71 64.07L412.11 68.07L407.31 68.07ZM409.95 64.02L412.35 68.02L407.55 68.02ZM410.19 63.98L412.59 67.98L407.79 67.98ZM410.42 63.93L412.82 67.93L408.02 67.93ZM410.66 63.88L413.06 67.88L408.26 67.88ZM410.89 63.84L413.29 67.84L408.49 67.84ZM411.13 63.79L413.53 67.79L408.73 67.79ZM411.36 63.75L413.76 67.75L408.96 67.75ZM411.59 63.71L413.99 67.71L409.19 67.71ZM411.82 63.66L414.22 67.66L409.42 67.66ZM412.05 63.62L414.45 67.62L409.65 67.62ZM412.28 63.58L414.68 67.58L409.88 67.58ZM412.51 63.54L414.91 67.54L410.11 67.54ZM412.74 63.5L415.14 67.5L410.34 67.5ZM412.96 63.46L415.36 67.46L410.56 67.46ZM413.19 63.42L415.59 67.42L410.79 67.42ZM413.41 63.38L415.81 67.38L411.01 67.38ZM413.64 63.34L416.04 67.34L411.24 67.34Z"/>
<line x1="218.5" y1="104.25" x2="297" y2="62.5" stroke="#0f0" stroke-width="1.1"/>
<line x1="218.5" y1="145.5" x2="295.8" y2="98.6" stroke="#00f" stroke-width="1.1" stroke-dasharray="2.6 1.3"/>
<line x1="140" y1="50.5" x2="190" y2="50.5" stroke="#0f0" stroke-width="1.1"/>
<line x1="140" y1="73.5" x2="190" y2="73.5" stroke="#00f" stroke-width="1.1" stroke-dasharray="2.6 1.3"/>
<g stroke="#000" fill="none">
<path stroke-width="1" d="M49.5 1.5V238.9M433.25 238.9V1.5"/>
<path stroke-width="1.2" d="M49 238.3H433.75"/>
<path stroke-width="0.9" d="M49 1.9H433.75"/>
</g>
<g stroke="#000" stroke-width="0.85" fill="none">
<path d="M88.63 238.1v-3.0M88.63 1.8v3.0M111.53 238.1v-3.0M111.53 1.8v3.0M127.77 238.1v-3.0M127.77 1.8v3.0M140.37 238.1v-3.0M140.37 1.8v3.0M150.66 238.1v-3.0M150.66 1.8v3.0M159.36 238.1v-3.0M159.36 1.8v3.0M166.9 238.1v-3.0M166.9 1.8v3.0M173.55 238.1v-3.0M173.55 1.8v3.0M179.5 238.1v-6.4M179.5 1.8v6.4M218.63 238.1v-3.0M218.63 1.8v3.0M241.53 238.1v-3.0M241.53 1.8v3.0M257.77 238.1v-3.0M257.77 1.8v3.0M270.37 238.1v-3.0M270.37 1.8v3.0M280.66 238.1v-3.0M280.66 1.8v3.0M289.36 238.1v-3.0M289.36 1.8v3.0M296.9 238.1v-3.0M296.9 1.8v3.0M303.55 238.1v-3.0M303.55 1.8v3.0M309.5 238.1v-6.4M309.5 1.8v6.4M348.63 238.1v-3.0M348.63 1.8v3.0M371.53 238.1v-3.0M371.53 1.8v3.0M387.77 238.1v-3.0M387.77 1.8v3.0M400.37 238.1v-3.0M400.37 1.8v3.0M410.66 238.1v-3.0M410.66 1.8v3.0M419.36 238.1v-3.0M419.36 1.8v3.0M426.9 238.1v-3.0M426.9 1.8v3.0M49.5 224.15h3.0M433.25 224.15h-3.0M49.5 212.62h3.0M433.25 212.62h-3.0M49.5 204.45h3.0M433.25 204.45h-3.0M49.5 198.1h3.0M433.25 198.1h-3.0M49.5 192.92h3.0M433.25 192.92h-3.0M49.5 188.54h3.0M433.25 188.54h-3.0M49.5 184.74h3.0M433.25 184.74h-3.0M49.5 181.39h3.0M433.25 181.39h-3.0M49.5 178.4h6.4M433.25 178.4h-6.4M49.5 158.7h3.0M433.25 158.7h-3.0M49.5 147.17h3.0M433.25 147.17h-3.0M49.5 139h3.0M433.25 139h-3.0M49.5 132.65h3.0M433.25 132.65h-3.0M49.5 127.47h3.0M433.25 127.47h-3.0M49.5 123.09h3.0M433.25 123.09h-3.0M49.5 119.29h3.0M433.25 119.29h-3.0M49.5 115.94h3.0M433.25 115.94h-3.0M49.5 112.95h6.4M433.25 112.95h-6.4M49.5 93.25h3.0M433.25 93.25h-3.0M49.5 81.72h3.0M433.25 81.72h-3.0M49.5 73.55h3.0M433.25 73.55h-3.0M49.5 67.2h3.0M433.25 67.2h-3.0M49.5 62.02h3.0M433.25 62.02h-3.0M49.5 57.64h3.0M433.25 57.64h-3.0M49.5 53.84h3.0M433.25 53.84h-3.0M49.5 50.49h3.0M433.25 50.49h-3.0M49.5 47.5h6.4M433.25 47.5h-6.4M49.5 27.8h3.0M433.25 27.8h-3.0M49.5 16.27h3.0M433.25 16.27h-3.0M49.5 8.1h3.0M433.25 8.1h-3.0"/>
</g>
<text y="256.6" font-size="16"><tspan x="36.2">10</tspan><tspan x="52.2" y="248.3" font-size="13">-</tspan><tspan x="55.5" y="248.3" font-size="13">1</tspan></text>
<text y="256.6" font-size="16"><tspan x="168.1">10</tspan><tspan x="184.3" y="248.3" font-size="13">0</tspan></text>
<text y="256.6" font-size="16"><tspan x="298.5">10</tspan><tspan x="313.8" y="248.4" font-size="13">1</tspan></text>
<text y="54.6" font-size="16"><tspan x="23.7">10</tspan><tspan x="40" y="47" font-size="13">0</tspan></text>
<text y="119.8" font-size="16"><tspan x="20.3">10</tspan><tspan x="36.3" y="112.2" font-size="13">-</tspan><tspan x="39.95" y="112.2" font-size="13">1</tspan></text>
<text y="184.8" font-size="16"><tspan x="20.3">10</tspan><tspan x="36.3" y="177.2" font-size="13">-</tspan><tspan x="39.8" y="177.2" font-size="13">2</tspan></text>
<text x="241.5" y="268" font-size="16" font-style="italic" text-anchor="middle">δ/d<tspan font-size="13" dy="4.3">p</tspan></text>
<text transform="translate(13,121.5) rotate(-90)" font-size="16" font-style="italic" text-anchor="middle">S<tspan font-size="13" dy="4.3">b</tspan><tspan dy="-4.3" dx="-0.5">(</tspan><tspan dx="-0.3">δ</tspan><tspan dx="-0.3">)</tspan></text>
<text x="101" y="30" font-size="16">fit <tspan dy="1.5">~</tspan><tspan dy="-1.5"> </tspan><tspan font-style="italic" font-size="18">δ</tspan></text>
<text transform="translate(142.8,23) scale(1.2,1)" font-size="14.5" font-style="italic">γ</text>
<text x="68.3" y="55.7" font-size="16" fill="#0f0">Run II</text>
<text x="64.3" y="79.5" font-size="16" fill="#00f">Run III</text>
<text x="353.6" y="162.6" font-size="16" fill="#f00" text-anchor="end">Run I</text>
<text x="354.2" y="185.5" font-size="16" fill="#0f0" text-anchor="end" letter-spacing="-0.2">Run II</text>
<text x="354.9" y="206" font-size="16" fill="#00f" text-anchor="end" letter-spacing="-0.15">Run III</text>
<rect x="377.6" y="155.7" width="4.8" height="4.8" fill="none" stroke="#f00" stroke-width="0.5"/>
<circle cx="380" cy="180.5" r="2.3" fill="#0f0"/>
<path fill="none" stroke="#00f" stroke-width="0.7" d="M380 199.4L382.4 203.4L377.6 203.4Z"/>
</svg></body></html>
